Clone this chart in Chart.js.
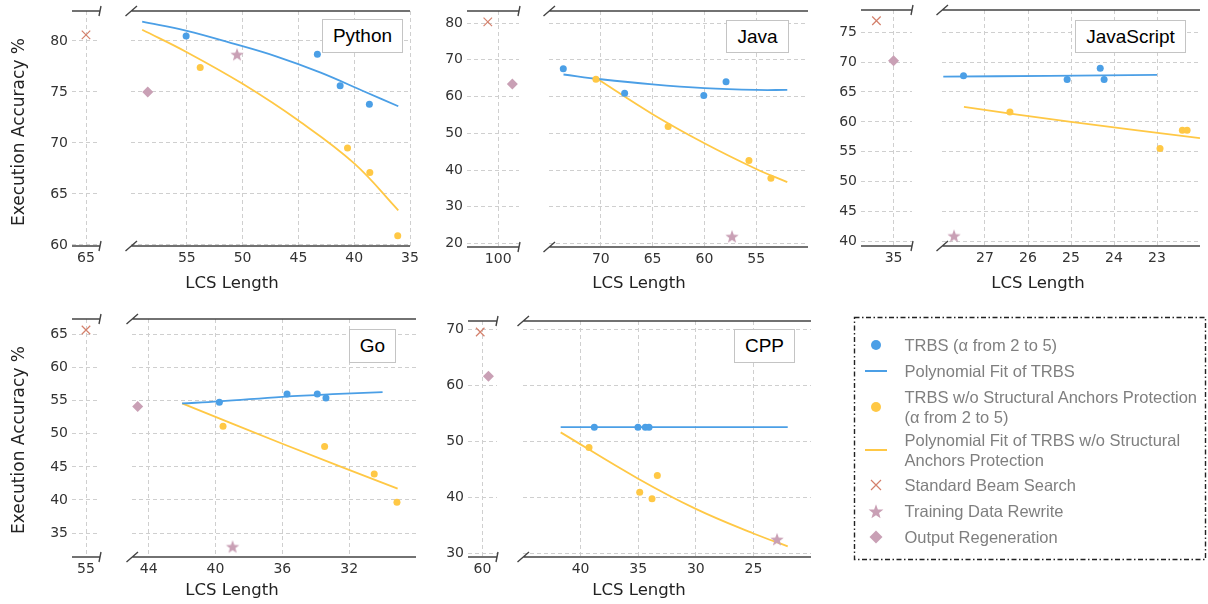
<!DOCTYPE html>
<html>
<head>
<meta charset="utf-8">
<script src="https://cdn.jsdelivr.net/npm/chart.js@4.4.0/dist/chart.umd.min.js"></script>
<style>
  body { margin: 0; background: #fff; width: 1208px; height: 604px; position: relative; overflow: hidden; }
  canvas { position: absolute; }
  .title { position: absolute; font-family: "DejaVu Sans", sans-serif; color: #222; white-space: nowrap;
           line-height: 20px; height: 20px; transform: translate(-50%, -50%); }
  .ytitle { font-size: 17px; transform: translate(-50%, -50%) rotate(-90deg); }
  .xtitle { font-size: 16.5px; }
  .tag { position: absolute; box-sizing: border-box; background: #fff; border: 1px solid #c4c4c4;
         font-family: "Liberation Sans", Arial, sans-serif; font-size: 19px; color: #000;
         display: flex; align-items: center; justify-content: center; z-index: 2; }
  #legend { position: absolute; left: 0; top: 0; z-index: 3; }
</style>
</head>
<body>
<svg id="legend" width="1208" height="604"></svg>
<script>
// DATA (LCS length on x, execution accuracy % on y)

const languages = ["Python", "Java", "JavaScript", "Go", "CPP"];

// TRBS (alpha from 2 to 5)
const trbsLcs = [[55.06, 43.3, 41.26, 38.64], [73.62, 67.7, 60.06, 57.91], [27.5, 25.09, 24.32, 24.23], [39.77, 35.72, 33.91, 33.39], [38.81, 35.02, 34.38, 34.06]];
const trbsAcc = [[80.5, 78.7, 75.6, 73.8], [67.55, 60.9, 60.3, 64.0], [67.7, 67.1, 68.95, 67.1], [54.76, 56.03, 56.03, 55.42], [52.5, 52.5, 52.5, 52.5]];

// polynomial fit of TRBS
const trbsFitLcs = [[59.0, 55, 51, 47, 43, 39, 36.05], [73.6, 70, 65, 60, 55, 52], [27.97, 25.5, 23], [42, 39.8, 36, 33, 30], [41.73, 32, 22.02]];
const trbsFitAcc = [[81.9, 81.0, 79.8, 78.5, 76.9, 75.0, 73.6], [66.0, 64.7, 63.3, 62.3, 61.8, 61.8], [67.55, 67.7, 67.85], [54.6, 54.9, 55.6, 56.0, 56.3], [52.55, 52.55, 52.55]];

// TRBS w/o structural anchors protection
const noAnchorLcs = [[53.8, 40.6, 38.6, 36.1], [70.47, 63.5, 55.7, 53.58], [26.42, 22.93, 22.41, 22.3], [39.55, 33.47, 30.5, 29.14], [39.27, 34.87, 33.8, 33.34]];
const noAnchorAcc = [[77.4, 69.5, 67.1, 60.9], [64.7, 51.85, 42.6, 37.8], [61.65, 55.55, 58.6, 58.6], [51.13, 48.1, 43.93, 39.64], [48.9, 40.9, 39.7, 43.9]];

const noAnchorFitLcs = [[59.0, 55, 50, 45, 40, 36.05], [70.5, 65, 60, 55, 52], [27.49, 25, 22], [42, 36, 29.1], [41.73, 35, 30, 25, 22.02]];
const noAnchorFitAcc = [[81.1, 78.9, 75.8, 72.2, 68.0, 63.4], [65.1, 55.2, 47.3, 40.3, 36.7], [62.5, 60.0, 57.3], [54.6, 48.5, 41.7], [51.6, 43.3, 37.9, 33.5, 31.2]];

// baselines, one point per language
const beamLcs = [65, 101.0, 35.4, 55.0, 60.19];
const beamAcc = [80.6, 80.3, 76.9, 65.7, 69.57];
const rewriteLcs = [50.5, 57.33, 27.72, 38.98, 22.95];
const rewriteAcc = [78.7, 22.0, 41.0, 32.97, 32.5];
const regenLcs = [58.5, 98.64, 35.0, 44.66, 59.51];
const regenAcc = [75.0, 63.4, 70.2, 54.15, 61.66];

// TICKS
const breakTicks = [[65], [100], [35], [55], [60]];
const lcsTicks = [[55, 50, 45, 40, 35], [70, 65, 60, 55], [27, 26, 25, 24, 23], [44, 40, 36, 32], [40, 35, 30, 25]];
const accTicks = [[60, 65, 70, 75, 80], [20, 30, 40, 50, 60, 70, 80], [40, 45, 50, 55, 60, 65, 70, 75], [35, 40, 45, 50, 55, 60, 65], [30, 40, 50, 60, 70]];

// LAYOUT (pixels on the page, axis limits)

const panels = [
  { leftPx: [72, 100], mainPx: [131, 410], top: 11, bottom: 246, leftX: [63.75, 66.25], mainX: [35, 60], yLim: [59.9, 82.94],
    tag: [322, 19, 81, 34], xTitle: [232, 283] },
  { leftPx: [467, 519], mainPx: [549, 808], top: 11, bottom: 247, leftX: [98, 103], mainX: [50, 75], yLim: [19.07, 83.27],
    tag: [726, 20, 63, 33], xTitle: [639, 283] },
  { leftPx: [861, 912], mainPx: [942, 1200], top: 10, bottom: 246, leftX: [34.57, 35.76], mainX: [22, 28], yLim: [39.26, 78.7],
    tag: [1075, 20, 111, 33], xTitle: [1038, 283] },
  { leftPx: [72, 100], mainPx: [132, 416], top: 319, bottom: 557, leftX: [54.15, 55.85], mainX: [28, 45], yLim: [31.37, 67.37],
    tag: [349, 329, 47, 34], xTitle: [232, 590] },
  { leftPx: [468, 497], mainPx: [523, 811], top: 321, bottom: 557, leftX: [58.8, 61.2], mainX: [20, 45], yLim: [29.29, 71.54],
    tag: [734, 329, 61, 34], xTitle: [639, 590] }
];

const BLUE = "#4b9fe6";
const YELLOW = "#ffc845";
const BEAM = "#d4806c";
const MAUVE = "#c9a0b5";
const GRID = "#cfcfcf";
const PAD = 16, YW = 40, XH = 28;

function starImage(r, color) {
  const c = document.createElement("canvas");
  c.width = c.height = 2 * r + 2;
  const ctx = c.getContext("2d");
  ctx.fillStyle = color;
  ctx.beginPath();
  for (let k = 0; k < 10; k++) {
    const rad = k % 2 ? r * 0.42 : r;
    const a = -Math.PI / 2 + k * Math.PI / 5;
    ctx.lineTo(r + 1 + rad * Math.cos(a), r + 1 + rad * Math.sin(a) + 0.8);
  }
  ctx.closePath();
  ctx.fill();
  return c;
}
const STAR = starImage(7, MAUVE);

const pts = (xs, ys) => xs.map((x, k) => ({ x: x, y: ys[k] }));

function makeSegment(p, i, isLeft) {
  const [x0, x1] = isLeft ? p.leftPx : p.mainPx;
  const yw = isLeft ? YW : 0;
  const areaW = x1 - x0, areaH = p.bottom - p.top;
  const w = areaW + yw + 2 * PAD, h = areaH + XH + PAD;

  const c = document.createElement("canvas");
  c.width = w; c.height = h;
  c.style.width = w + "px"; c.style.height = h + "px";
  c.style.left = (x0 - yw - PAD) + "px";
  c.style.top = (p.top - PAD) + "px";
  document.body.appendChild(c);

  const xlim = isLeft ? p.leftX : p.mainX;
  const xticks = isLeft ? breakTicks[i] : lcsTicks[i];
  const tickFont = { family: "DejaVu Sans", size: 14 };

  new Chart(c, {
    type: "scatter",
    data: {
      datasets: [
        { data: pts(trbsLcs[i], trbsAcc[i]), backgroundColor: BLUE, borderWidth: 0, pointRadius: 3.5 },
        { data: pts(noAnchorLcs[i], noAnchorAcc[i]), backgroundColor: YELLOW, borderWidth: 0, pointRadius: 3.5 },
        { data: [{ x: beamLcs[i], y: beamAcc[i] }], pointStyle: "crossRot", pointRadius: 6, borderColor: BEAM, borderWidth: 1.2 },
        { data: [{ x: rewriteLcs[i], y: rewriteAcc[i] }], pointStyle: STAR },
        { data: [{ x: regenLcs[i], y: regenAcc[i] }], pointStyle: "rectRot", pointRadius: 5.5, backgroundColor: MAUVE, borderWidth: 0 },
        { data: pts(trbsFitLcs[i], trbsFitAcc[i]), showLine: true, pointRadius: 0, borderColor: BLUE, borderWidth: 1.8, tension: 0.4 },
        { data: pts(noAnchorFitLcs[i], noAnchorFitAcc[i]), showLine: true, pointRadius: 0, borderColor: YELLOW, borderWidth: 1.8, tension: 0.4 }
      ].map(d => Object.assign({ clip: 0 }, d))
    },
    options: {
      responsive: false,
      animation: false,
      layout: { padding: { left: PAD, right: PAD, top: PAD, bottom: 0 } },
      plugins: { legend: { display: false }, tooltip: { enabled: false } },
      scales: {
        x: {
          type: "linear", reverse: true, min: xlim[0], max: xlim[1],
          afterBuildTicks: s => { s.ticks = xticks.map(v => ({ value: v })); },
          afterFit: s => { s.height = XH; },
          grid: { color: GRID, lineWidth: 1, drawTicks: false },
          border: { display: false, dash: [4, 3] },
          ticks: { padding: 4, color: "#333", font: tickFont, maxRotation: 0, autoSkip: false }
        },
        y: {
          type: "linear", min: p.yLim[0], max: p.yLim[1],
          afterBuildTicks: s => { s.ticks = accTicks[i].map(v => ({ value: v })); },
          afterFit: s => { s.width = yw; },
          grid: { color: GRID, lineWidth: 1, drawTicks: false },
          border: { display: false, dash: [4, 3] },
          ticks: { display: isLeft, padding: 4, color: "#333", font: tickFont }
        }
      }
    },
    plugins: [{
      id: "spines",
      afterDraw(chart) {
        const { ctx, chartArea: a } = chart;
        ctx.save();
        ctx.strokeStyle = "#444";
        ctx.lineWidth = 1.4;
        ctx.beginPath();
        [a.top, a.bottom].forEach(y => {
          ctx.moveTo(a.left, y); ctx.lineTo(a.right, y);
          // break marks
          if (isLeft) { ctx.moveTo(a.right - 1, y + 5); ctx.lineTo(a.right + 1, y - 5); }
          else { ctx.moveTo(a.left - 5.5, y + 5); ctx.lineTo(a.left + 6, y - 5); }
        });
        ctx.stroke();
        ctx.restore();
      }
    }]
  });
}

function addDiv(cls, text, css) {
  const d = document.createElement("div");
  d.className = cls;
  d.textContent = text;
  Object.assign(d.style, css);
  document.body.appendChild(d);
}

panels.forEach((p, i) => {
  makeSegment(p, i, true);
  makeSegment(p, i, false);
  addDiv("tag", languages[i], { left: p.tag[0] + "px", top: p.tag[1] + "px", width: p.tag[2] + "px", height: p.tag[3] + "px" });
  addDiv("title xtitle", "LCS Length", { left: p.xTitle[0] + "px", top: p.xTitle[1] + "px" });
});

addDiv("title ytitle", "Execution Accuracy %", { left: "18px", top: "132px" });
addDiv("title ytitle", "Execution Accuracy %", { left: "18px", top: "440px" });

// LEGEND

const legendItems = [
  { mark: "dot", color: BLUE, y: 345, lines: ["TRBS (\u03b1 from 2 to 5)"] },
  { mark: "line", color: BLUE, y: 371, lines: ["Polynomial Fit of TRBS"] },
  { mark: "dot", color: YELLOW, y: 407, lines: ["TRBS w/o Structural Anchors Protection", "(\u03b1 from 2 to 5)"] },
  { mark: "line", color: YELLOW, y: 450, lines: ["Polynomial Fit of TRBS w/o Structural", "Anchors Protection"] },
  { mark: "cross", color: BEAM, y: 485, lines: ["Standard Beam Search"] },
  { mark: "star", color: MAUVE, y: 511, lines: ["Training Data Rewrite"] },
  { mark: "diamond", color: MAUVE, y: 537, lines: ["Output Regeneration"] }
];

const svg = document.getElementById("legend");
let html = '<rect x="854.5" y="317.5" width="351" height="242" fill="none" stroke="#222" stroke-width="1.4" stroke-dasharray="5 2.5 1.5 2.5"/>';
legendItems.forEach(it => {
  const cx = 876, cy = it.y;
  if (it.mark === "dot") html += `<circle cx="${cx}" cy="${cy}" r="5" fill="${it.color}"/>`;
  if (it.mark === "line") html += `<line x1="865" y1="${cy}" x2="887" y2="${cy}" stroke="${it.color}" stroke-width="2"/>`;
  if (it.mark === "cross") html += `<path d="M${cx - 5} ${cy - 5}L${cx + 5} ${cy + 5}M${cx - 5} ${cy + 5}L${cx + 5} ${cy - 5}" stroke="${it.color}" stroke-width="1.2"/>`;
  if (it.mark === "diamond") html += `<path d="M${cx} ${cy - 6.5}L${cx + 6.5} ${cy}L${cx} ${cy + 6.5}L${cx - 6.5} ${cy}Z" fill="${it.color}"/>`;
  if (it.mark === "star") {
    let d = "";
    for (let k = 0; k < 10; k++) {
      const rad = k % 2 ? 3.2 : 7.8;
      const a = -Math.PI / 2 + k * Math.PI / 5;
      d += (k ? "L" : "M") + (cx + rad * Math.cos(a)).toFixed(2) + " " + (cy + 1 + rad * Math.sin(a)).toFixed(2);
    }
    html += `<path d="${d}Z" fill="${it.color}"/>`;
  }
  const n = it.lines.length;
  it.lines.forEach((t, k) => {
    const ty = cy + (k - (n - 1) / 2) * 20 + 6;
    html += `<text x="904.5" y="${ty}" font-family="Liberation Sans, Arial, sans-serif" font-size="16.5" fill="#7f7f7f">${t}</text>`;
  });
});
svg.innerHTML = html;
</script>
</body>
</html>
